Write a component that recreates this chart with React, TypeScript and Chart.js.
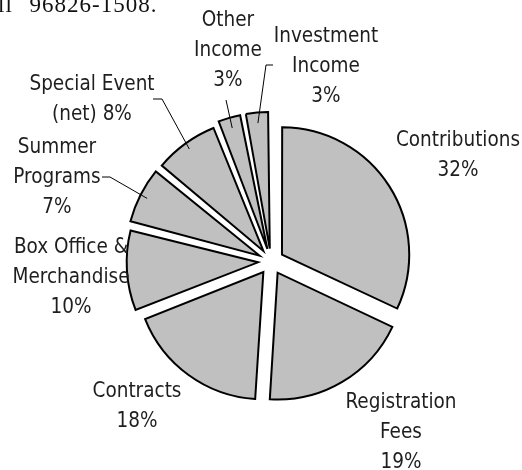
import React, { useEffect, useRef } from "react";
import { Chart, registerables } from "chart.js";

Chart.register(...registerables);

// ---- data ----
const categories = [
  "Contributions",
  "Registration Fees",
  "Contracts",
  "Box Office & Merchandise",
  "Summer Programs",
  "Special Event (net)",
  "Other Income",
  "Investment Income",
];
const shares = [32, 19, 18, 10, 7, 8, 3, 3];
// how each label is broken into lines; {p} is replaced by the percentage
const labelTemplates = [
  "Contributions\n{p}",
  "Registration\nFees\n{p}",
  "Contracts\n{p}",
  "Box Office &\nMerchandise\n{p}",
  "Summer\nPrograms\n{p}",
  "Special Event\n(net) {p}",
  "Other\nIncome\n{p}",
  "Investment\nIncome\n{p}",
];

// ---- label layout (text block centre, relative to pie centre) ----
const labelPlacement = [
  { dx: 187, dy: -106 },
  { dx: 130, dy: 171 },
  { dx: -134, dy: 145 },
  { dx: -200, dy: 16 },
  { dx: -214, dy: -84 },
  { dx: -179, dy: -162 },
  { dx: -43, dy: -211 },
  { dx: 55, dy: -195 },
];
// leader line start (and optional elbow), relative to pie centre
const leaderStarts: (number[][] | null)[] = [
  null,
  null,
  null,
  null,
  [[-169, -84.5], [-161, -84.5]],
  [[-118, -162.5], [-109, -162.5]],
  [[-45, -161.5]],
  [[2, -196.5], [-5, -196.5]],
];

const LABEL_FONT = '20.5px "DejaVu Sans Condensed", "DejaVu Sans", sans-serif';
const LINE_GAP = 30;
const SLICE_OFFSET = 52; // Chart.js draws arcs shifted by offset / 4

const labelPlugin = {
  id: "pieLabels",
  afterDatasetsDraw(chart: any) {
    const ctx = chart.ctx as CanvasRenderingContext2D;
    const meta = chart.getDatasetMeta(0);
    const total = shares.reduce((a, b) => a + b, 0);
    ctx.save();
    ctx.font = LABEL_FONT;
    ctx.fillStyle = "#1e1e1e";
    ctx.textAlign = "center";
    ctx.textBaseline = "middle";
    meta.data.forEach((arc: any, i: number) => {
      const { x, y, startAngle, endAngle, outerRadius } = arc.getProps(
        ["x", "y", "startAngle", "endAngle", "outerRadius"],
        true
      );
      const off = (arc.options.offset || 0) / 4;
      const mid = (startAngle + endAngle) / 2;
      const pct = Math.round((shares[i] / total) * 100) + "%";
      const lines = labelTemplates[i].replace("{p}", pct).split("\n");
      const p = labelPlacement[i];
      const cy = y + p.dy;
      const cx = x + p.dx;
      lines.forEach((ln, k) => {
        ctx.fillText(ln, cx, cy + (k - (lines.length - 1) / 2) * LINE_GAP);
      });
      const starts = leaderStarts[i];
      if (starts) {
        const ex = x + Math.cos(mid) * (outerRadius + off);
        const ey = y + Math.sin(mid) * (outerRadius + off);
        ctx.beginPath();
        ctx.strokeStyle = "#000";
        ctx.lineWidth = 1;
        starts.forEach((pt, k) => {
          if (k === 0) ctx.moveTo(x + pt[0], y + pt[1]);
          else ctx.lineTo(x + pt[0], y + pt[1]);
        });
        ctx.lineTo(ex, ey);
        ctx.stroke();
      }
    });
    ctx.restore();
  },
};

export default function App() {
  const ref = useRef<HTMLCanvasElement>(null);
  useEffect(() => {
    if (!ref.current) return;
    const chart = new Chart(ref.current, {
      type: "pie",
      data: {
        labels: categories,
        datasets: [
          {
            data: shares,
            backgroundColor: "#c0c0c0",
            borderColor: "#000",
            borderWidth: 2,
            borderJoinStyle: "miter",
            offset: SLICE_OFFSET,
            hoverOffset: 0,
          } as any,
        ],
      },
      options: {
        animation: false,
        responsive: false,
        radius: 126,
        layout: { padding: { left: 20, right: 0, top: 53, bottom: 0 } },
        plugins: {
          legend: { display: false },
          tooltip: { enabled: false },
        },
        events: [],
      } as any,
      plugins: [labelPlugin],
    });
    return () => chart.destroy();
  }, []);
  return (
    <div
      style={{
        position: "absolute",
        left: 0,
        top: 0,
        width: 522,
        height: 470,
        overflow: "hidden",
        background: "#fff",
      }}
    >
      <canvas ref={ref} width={522} height={470} style={{ position: "absolute", left: 0, top: 0 }} />
      <div
        style={{
          position: "absolute",
          left: -2,
          top: -7,
          fontFamily: '"Liberation Serif", "Times New Roman", serif',
          fontSize: 23,
          lineHeight: "23px",
          letterSpacing: 1,
          wordSpacing: 10,
          color: "#111",
          whiteSpace: "nowrap",
        }}
      >
        ll 96826-1508.
      </div>
    </div>
  );
}
